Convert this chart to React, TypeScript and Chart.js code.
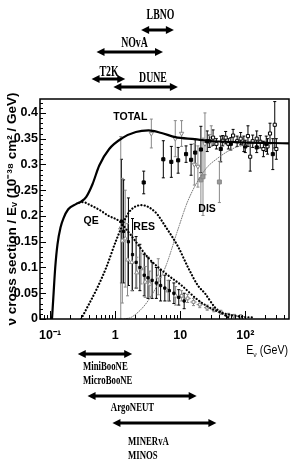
import React, { useEffect, useRef } from "react";
import { Chart, registerables } from "chart.js";
Chart.register(...registerables);

// ---------- axes ----------
const xTickVals = [0.1, 1, 10, 100];
const xTickLabels = ["10⁻¹", "1", "10", "10²"];
const yTickVals = [0, 0.05, 0.1, 0.15, 0.2, 0.25, 0.3, 0.35, 0.4];
const yTickLabels = ["0", "0.05", "0.1", "0.15", "0.2", "0.25", "0.3", "0.35", "0.4"];
const yTitle = "ν cross section / Eᵥ (10⁻³⁸ cm² / GeV)";
const xTitleMain = "E";
const xTitleSub = "ν";
const xTitleUnit = " (GeV)";

// ---------- theory curves (E in GeV, sigma/E) ----------
const totalE = [0.107, 0.112, 0.12, 0.13, 0.145, 0.16, 0.19, 0.25, 0.3, 0.36, 0.45, 0.57, 0.81, 1.28, 2.08, 3.27, 5.16, 8.4, 16.8, 26.5, 84, 470];
const totalY = [0, 0.04, 0.1, 0.145, 0.178, 0.195, 0.213, 0.223, 0.228, 0.237, 0.262, 0.298, 0.33, 0.351, 0.363, 0.366, 0.361, 0.353, 0.349, 0.346, 0.343, 0.341];
const qeE = [0.28, 0.32, 0.4, 0.57, 0.8, 1.15, 1.81, 3.27, 5.9, 10.3, 18.7, 33.9, 59, 96, 130];
const qeY = [0.226, 0.227, 0.222, 0.212, 0.2, 0.19, 0.16, 0.118, 0.089, 0.066, 0.037, 0.017, 0.008, 0.004, 0.003];
const resE = [0.3, 0.4, 0.53, 0.73, 1.04, 1.63, 2.56, 4.17, 5.9, 9.3, 13.2, 18.7, 23.9, 34, 48, 60];
const resY = [0, 0.03, 0.06, 0.1, 0.153, 0.207, 0.221, 0.207, 0.18, 0.14, 0.1, 0.065, 0.05, 0.023, 0.008, 0];
const disE = [1.37, 1.81, 3.27, 5.9, 9.3, 13.2, 23.9, 37.6, 68, 107, 140];
const disY = [0, 0.004, 0.037, 0.1, 0.175, 0.23, 0.289, 0.312, 0.332, 0.338, 0.34];

// ---------- measurements ----------
const hiBlackE = [2.75, 5.5, 7.3, 9.3, 12.3, 14.7, 17, 20.8, 26, 42, 60, 100, 150, 210, 265];
const hiBlackY = [0.265, 0.31, 0.305, 0.308, 0.32, 0.309, 0.323, 0.329, 0.345, 0.33, 0.34, 0.335, 0.333, 0.34, 0.32];
const hiBlackErr = [0.022, 0.036, 0.03, 0.025, 0.016, 0.03, 0.025, 0.045, 0.02, 0.025, 0.012, 0.012, 0.01, 0.015, 0.03];

const hiGreyE = [3.6, 8.4, 10.5, 16.5, 18.7, 24, 30];
const hiGreyY = [0.36, 0.35, 0.36, 0.3, 0.296, 0.34, 0.355];
const hiGreyErr = [0.028, 0.035, 0.025, 0.04, 0.04, 0.06, 0.02];

const greySqE = [20.8, 22.4, 40];
const greySqY = [0.27, 0.276, 0.266];
const greySqErr = [0.06, 0.075, 0.04];

const hiOpenE = [28, 32, 36, 45, 50, 55, 65, 75, 85, 95, 110, 119, 130, 150, 170, 190, 220, 240, 284, 300];
const hiOpenY = [0.345, 0.352, 0.34, 0.346, 0.352, 0.34, 0.356, 0.345, 0.35, 0.34, 0.355, 0.315, 0.345, 0.35, 0.344, 0.33, 0.335, 0.36, 0.377, 0.33];
const hiOpenErr = [0.012, 0.015, 0.01, 0.01, 0.012, 0.01, 0.012, 0.01, 0.012, 0.015, 0.02, 0.028, 0.012, 0.015, 0.012, 0.015, 0.015, 0.02, 0.045, 0.02];

const loGreyE = [1.22, 1.29, 1.43, 1.55, 1.8, 2.15, 2.5, 2.9, 3.4, 4.6, 6.5, 8.5];
const loGreyY = [0.177, 0.152, 0.156, 0.115, 0.11, 0.09, 0.098, 0.072, 0.068, 0.082, 0.055, 0.045];
const loGreyErr = [0.177, 0.121, 0.094, 0.07, 0.055, 0.03, 0.03, 0.03, 0.025, 0.035, 0.02, 0.018];

const loBlackE = [1.25, 1.35, 1.6, 1.85, 2.1, 2.4, 2.8, 3.2, 3.7, 4.3, 5, 5.8, 6.8, 8, 9.5, 11.5];
const loBlackY = [0.19, 0.17, 0.15, 0.125, 0.11, 0.1, 0.085, 0.08, 0.075, 0.07, 0.065, 0.06, 0.055, 0.05, 0.042, 0.035];
const loBlackErr = [0.12, 0.1, 0.085, 0.07, 0.05, 0.045, 0.04, 0.04, 0.035, 0.03, 0.03, 0.025, 0.02, 0.02, 0.015, 0.015];

const loHE = [10.5, 13, 16, 20, 26, 33, 42, 55, 68, 85];
const loHY = [0.045, 0.04, 0.033, 0.028, 0.022, 0.018, 0.013, 0.008, 0.006, 0.005];
const loHErr = [0.01, 0.008, 0.007, 0.006, 0.005, 0.004, 0.004, 0.003, 0.003, 0.003];

// ---------- curve labels ----------
const curveLabels = ["TOTAL", "QE", "RES", "DIS"];
const curveLabelE = [1.71, 0.427, 2.79, 25.9];
const curveLabelY = [0.392, 0.19, 0.179, 0.214];

// ---------- experiments (energy ranges, GeV) ----------
const expLabels = [["LBNO"], ["NOvA"], ["T2K"], ["DUNE"], ["MiniBooNE", "MicroBooNE"], ["ArgoNEUT"], ["MINERvA", "MINOS"]];
const expMin = [2.51, 0.517, 0.434, 0.94, 0.266, 0.377, 0.908];
const expMax = [8.0, 5.44, 1.43, 9.2, 1.83, 17.9, 36];

// layout of experiment annotations (pixels, style only)
const expLayout = [
  { ay: 30, lx: 160.5, ly: 15, align: "center", size: 14 },
  { ay: 52, lx: 134.5, ly: 43, align: "center", size: 14 },
  { ay: 79, lx: 109, ly: 72, align: "center", size: 14 },
  { ay: 87, lx: 153, ly: 78, align: "center", size: 14 },
  { ay: 354, lx: 83, ly: 367, align: "left", size: 12.5 },
  { ay: 396, lx: 132.5, ly: 407.5, align: "center", size: 12.5 },
  { ay: 423, lx: 128, ly: 442, align: "left", size: 12.5 },
];

const pts = (xs: number[], ys: number[]) => xs.map((x, i) => ({ x, y: ys[i] }));

function condText(ctx: any, text: string, x: number, y: number, align: string, sx: number) {
  ctx.save();
  ctx.translate(x, y);
  ctx.scale(sx, 1);
  ctx.textAlign = align;
  ctx.textBaseline = "middle";
  ctx.fillText(text, 0, 0);
  ctx.restore();
}

function arrow(ctx: any, x1: number, x2: number, y: number) {
  const hl = 8, hw = 4;
  ctx.lineWidth = 3;
  ctx.beginPath();
  ctx.moveTo(x1 + hl - 1, y);
  ctx.lineTo(x2 - hl + 1, y);
  ctx.stroke();
  ctx.beginPath();
  ctx.moveTo(x1, y); ctx.lineTo(x1 + hl, y - hw); ctx.lineTo(x1 + hl, y + hw); ctx.closePath(); ctx.fill();
  ctx.beginPath();
  ctx.moveTo(x2, y); ctx.lineTo(x2 - hl, y - hw); ctx.lineTo(x2 - hl, y + hw); ctx.closePath(); ctx.fill();
}

const overlay = {
  id: "overlay",
  beforeDatasetsDraw(chart: any) {
    const { ctx, chartArea: a, scales } = chart;
    const x = scales.x, y = scales.y;
    ctx.save();
    ctx.beginPath();
    ctx.rect(a.left, a.top, a.right - a.left, a.bottom - a.top);
    ctx.clip();
    chart.data.datasets.forEach((ds: any) => {
      if (!ds.errs) return;
      ctx.strokeStyle = ds.errColor;
      ctx.lineWidth = 1;
      ds.data.forEach((p: any, i: number) => {
        const px = x.getPixelForValue(p.x);
        const e = ds.errs[i];
        const y1 = y.getPixelForValue(p.y - e), y2 = y.getPixelForValue(p.y + e);
        ctx.beginPath();
        ctx.moveTo(px, y1); ctx.lineTo(px, y2);
        ctx.moveTo(px - 1.5, y1); ctx.lineTo(px + 1.5, y1);
        ctx.moveTo(px - 1.5, y2); ctx.lineTo(px + 1.5, y2);
        ctx.stroke();
        if (ds.xErrFactor) {
          const py = y.getPixelForValue(p.y);
          ctx.beginPath();
          ctx.moveTo(x.getPixelForValue(p.x / ds.xErrFactor), py);
          ctx.lineTo(x.getPixelForValue(p.x * ds.xErrFactor), py);
          ctx.stroke();
        }
      });
    });
    ctx.restore();
  },
  afterDraw(chart: any) {
    const { ctx, chartArea: a, scales } = chart;
    const x = scales.x, y = scales.y;
    ctx.save();
    ctx.strokeStyle = "#000";
    ctx.fillStyle = "#000";
    // frame
    ctx.lineWidth = 1.5;
    ctx.strokeRect(a.left, a.top, a.right - a.left, a.bottom - a.top);
    // y ticks (inward)
    ctx.lineWidth = 1;
    ctx.beginPath();
    for (let k = 0; k <= 42; k++) {
      const py = Math.round(y.getPixelForValue(k / 100)) + 0.5;
      const len = k % 5 === 0 ? 6 : 3;
      ctx.moveTo(a.left, py); ctx.lineTo(a.left + len, py);
    }
    // x ticks (inward)
    for (let d = -2; d <= 2; d++) {
      for (let m = 1; m <= 9; m++) {
        const v = m * Math.pow(10, d);
        if (v < x.min || v > x.max) continue;
        const px = Math.round(x.getPixelForValue(v)) + 0.5;
        const len = m === 1 ? 8 : 4;
        ctx.moveTo(px, a.bottom); ctx.lineTo(px, a.bottom - len);
      }
    }
    ctx.stroke();
    // curve labels
    ctx.font = 'bold 10.5px "Liberation Sans"';
    curveLabels.forEach((t, i) => {
      condText(ctx, t, x.getPixelForValue(curveLabelE[i]), y.getPixelForValue(curveLabelY[i]), "center", 1);
    });
    // x title
    ctx.textBaseline = "middle";
    ctx.save();
    ctx.translate(a.right - 1, 351);
    ctx.scale(0.85, 1);
    ctx.font = '12.5px "Liberation Sans"';
    const wE = ctx.measureText(xTitleMain).width;
    const wU = ctx.measureText(xTitleUnit).width;
    ctx.font = '8px "Liberation Sans"';
    const wS = ctx.measureText(xTitleSub).width;
    const total = wE + wS + wU;
    ctx.textAlign = "left";
    ctx.font = '12.5px "Liberation Sans"';
    ctx.fillText(xTitleMain, -total, 0);
    ctx.font = '8px "Liberation Sans"';
    ctx.fillText(xTitleSub, -total + wE, 4);
    ctx.font = '12.5px "Liberation Sans"';
    ctx.fillText(xTitleUnit, -total + wE + wS, 0);
    ctx.restore();
    // experiments
    expLabels.forEach((lines, i) => {
      const L = expLayout[i];
      arrow(ctx, x.getPixelForValue(expMin[i]), x.getPixelForValue(expMax[i]), L.ay);
      ctx.font = `bold ${L.size}px "Liberation Serif"`;
      lines.forEach((t, j) => condText(ctx, t, L.lx, L.ly + j * 14, L.align, 0.7));
    });
    ctx.restore();
  },
};

export default function App() {
  const ref = useRef<HTMLCanvasElement>(null);
  useEffect(() => {
    document.body.style.margin = "0";
    const canvas = ref.current!;
    const curve = (xs: number[], ys: number[], color: string, width: number, dash: number[]) => ({
      data: pts(xs, ys),
      showLine: true,
      borderColor: color,
      borderWidth: width,
      borderDash: dash,
      borderCapStyle: dash.length ? "round" : "butt",
      pointRadius: 0,
      fill: false,
      cubicInterpolationMode: "monotone",
    });
    const markers = (xs: number[], ys: number[], errs: number[], style: string, fill: string, stroke: string, r: number, extra: any = {}) => ({
      data: pts(xs, ys),
      errs,
      errColor: stroke,
      showLine: false,
      pointStyle: style,
      pointRadius: r,
      pointBackgroundColor: fill,
      pointBorderColor: stroke,
      pointBorderWidth: 1,
      ...extra,
    });
    const chart = new Chart(canvas, {
      type: "scatter",
      data: {
        datasets: [
          curve(totalE, totalY, "#000", 2.2, []),
          curve(qeE, qeY, "#000", 2.2, [0.1, 3.2]),
          curve(resE, resY, "#000", 2.2, [0.1, 3.2]),
          curve(disE, disY, "#777", 1, [1, 1.5]),
          markers(hiBlackE, hiBlackY, hiBlackErr, "rect", "#000", "#000", 2.2),
          markers(hiOpenE, hiOpenY, hiOpenErr, "rect", "#fff", "#000", 2.2),
          markers(hiGreyE, hiGreyY, hiGreyErr, "triangle", "#fff", "#888", 2.5, { pointRotation: 180 }),
          markers(greySqE, greySqY, greySqErr, "rect", "#999", "#888", 2.8),
          markers(loBlackE, loBlackY, loBlackErr, "rect", "#000", "#000", 1.6),
          markers(loGreyE, loGreyY, loGreyErr, "triangle", "#fff", "#888", 2.5),
          markers(loHE, loHY, loHErr, "rect", "#fff", "#888", 2, { xErrFactor: 1.12 }),
        ] as any,
      },
      options: {
        animation: false,
        responsive: false,
        events: [],
        layout: { padding: { top: 99, left: 4, right: 3, bottom: 0 } },
        plugins: { legend: { display: false }, tooltip: { enabled: false } },
        scales: {
          x: {
            type: "logarithmic",
            min: 0.07,
            max: 470,
            afterBuildTicks: (s: any) => { s.ticks = xTickVals.map((v) => ({ value: v })); },
            afterFit: (s: any) => { s.height = 144; s.paddingLeft = 0; s.paddingRight = 0; },
            grid: { display: false, drawTicks: false },
            border: { display: false },
            ticks: {
              callback: (_v: any, i: number) => xTickLabels[i],
              font: { family: "Liberation Sans", weight: "bold", size: 12.5 },
              color: "#000",
              padding: 9,
              maxRotation: 0,
              autoSkip: false,
            },
          },
          y: {
            min: 0,
            max: 0.427,
            afterBuildTicks: (s: any) => { s.ticks = yTickVals.map((v) => ({ value: v })); },
            afterFit: (s: any) => { s.width = 36; s.paddingTop = 0; s.paddingBottom = 0; },
            grid: { display: false, drawTicks: false },
            border: { display: false },
            ticks: {
              callback: (_v: any, i: number) => yTickLabels[i],
              font: { family: "Liberation Sans", weight: "bold", size: 12.5 },
              color: "#000",
              padding: 2,
              autoSkip: false,
            },
            title: {
              display: true,
              text: yTitle,
              color: "#000",
              font: { family: "Liberation Sans", weight: "bold", size: 13.5 },
              padding: 0,
            },
          },
        },
      } as any,
      plugins: [overlay],
    });
    return () => chart.destroy();
  }, []);
  return (
    <div style={{ position: "absolute", left: 0, top: 0, width: 294, height: 463 }}>
      <canvas ref={ref} width={294} height={463} style={{ display: "block" }} />
    </div>
  );
}
